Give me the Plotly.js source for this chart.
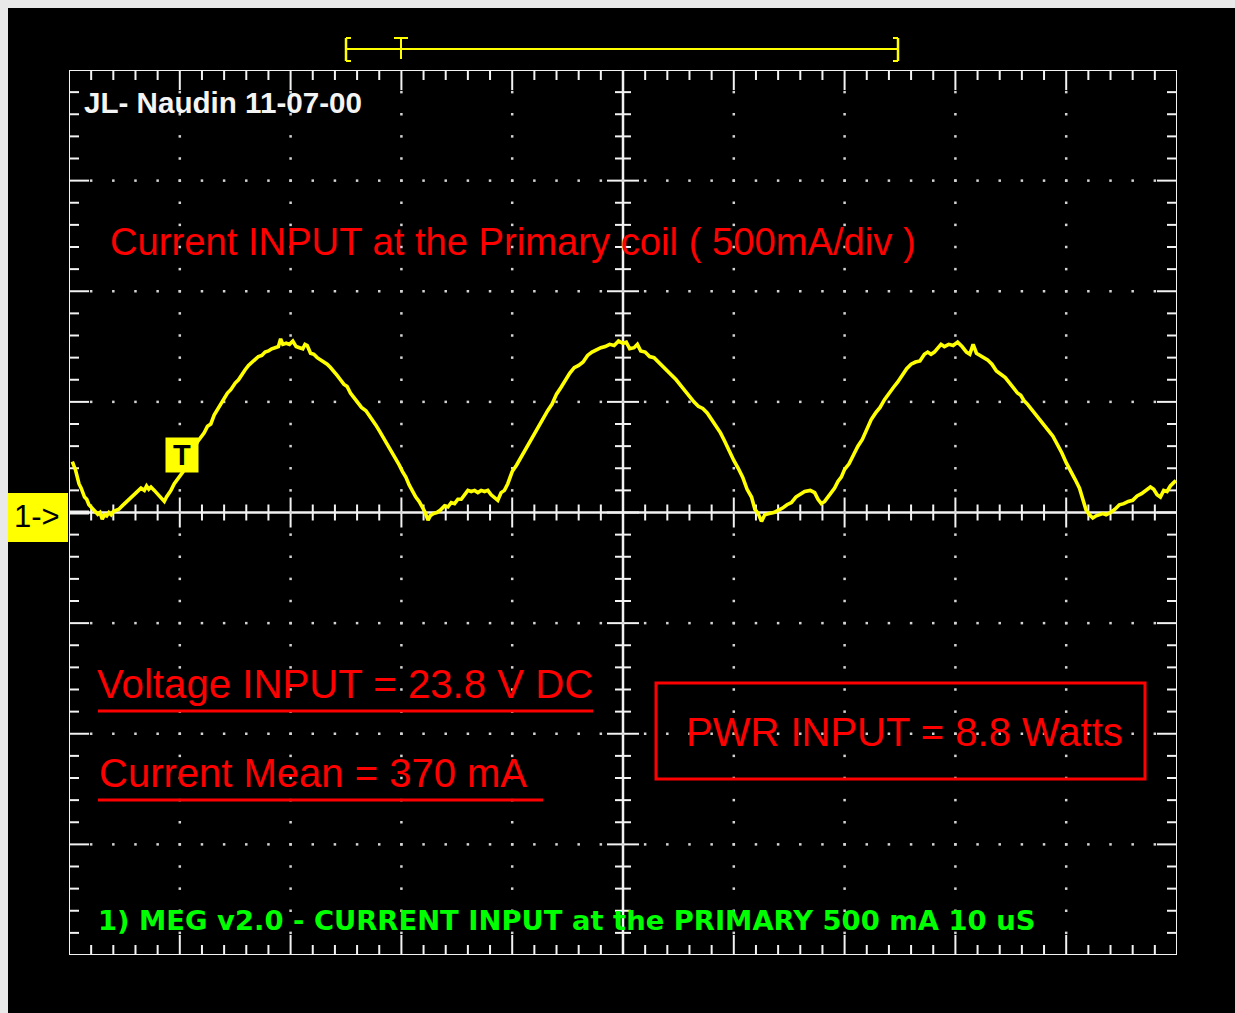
<!DOCTYPE html>
<html><head><meta charset="utf-8">
<script src="https://cdn.plot.ly/plotly-3.0.1.min.js"></script>
<style>
html,body{margin:0;padding:0;background:#e9e9e9;width:1235px;height:1013px;overflow:hidden;}
#chart{position:absolute;left:8px;top:8px;width:1227px;height:1005px;}
</style></head><body><div id="chart"></div>
<script>
// ---- data: current through the primary coil (time in µs, current in mA) ----
const timeUs = [0.3,0.6,0.9,1.1,1.4,1.6,1.8,2.0,2.3,2.6,2.8,3.0,3.2,3.4,3.6,3.8,4.0,4.3,4.5,4.8,5.0,5.3,5.6,5.9,6.2,6.5,6.8,7.0,7.2,7.4,7.7,7.9,8.0,8.3,8.6,8.8,9.0,9.2,9.5,9.8,10.0,10.3,10.7,11.0,11.3,11.6,11.9,12.2,12.5,12.8,13.1,13.4,13.7,14.0,14.3,14.6,15.0,15.3,15.6,15.9,16.2,16.5,16.8,17.1,17.4,17.7,18.0,18.3,18.6,18.9,19.1,19.3,19.6,19.9,20.2,20.5,20.8,21.1,21.3,21.5,21.8,22.1,22.4,22.7,23.0,23.3,23.6,23.9,24.2,24.5,24.8,25.1,25.4,25.7,26.0,26.4,26.8,27.1,27.4,27.7,28.0,28.3,28.6,28.9,29.2,29.5,29.8,30.1,30.4,30.7,31.0,31.3,31.6,31.9,32.1,32.4,32.6,32.9,33.2,33.5,33.9,34.2,34.5,34.8,35.1,35.4,35.7,36.0,36.3,36.6,36.9,37.2,37.5,37.8,38.1,38.4,38.7,39.0,39.3,39.6,40.0,40.4,40.8,41.2,41.6,42.0,42.4,42.8,43.2,43.6,44.0,44.4,44.8,45.2,45.6,46.0,46.4,46.8,47.2,47.6,48.0,48.4,48.8,49.2,49.6,50.0,50.3,50.6,51.0,51.3,51.6,52.0,52.4,52.8,53.2,53.6,54.0,54.4,54.8,55.2,55.6,56.0,56.4,56.8,57.2,57.6,58.0,58.4,58.8,59.2,59.6,60.0,60.4,60.8,61.2,61.6,61.9,62.2,62.5,62.8,63.2,63.6,64.0,64.4,64.8,65.2,65.6,66.0,66.4,66.9,67.3,67.6,67.9,68.2,68.5,68.8,69.1,69.4,69.7,70.0,70.4,70.8,71.2,71.6,72.0,72.4,72.8,73.2,73.6,74.0,74.4,74.8,75.2,75.6,76.0,76.4,76.8,77.2,77.5,77.8,78.1,78.4,78.7,79.0,79.4,79.8,80.2,80.6,81.0,81.3,81.6,81.9,82.2,82.5,82.9,83.3,83.7,84.1,84.5,84.9,85.3,85.6,85.9,86.2,86.5,86.8,87.2,87.6,88.0,88.4,88.8,89.2,89.6,90.0,90.4,90.8,91.2,91.5,91.8,92.1,92.4,92.7,93.0,93.3,93.6,94.0,94.4,94.8,95.2,95.6,96.0,96.4,96.8,97.2,97.6,97.9,98.2,98.5,98.8,99.1,99.4,99.7,99.9];
const currentMa = [230,190,130,110,70,60,35,25,5,-8,0,-30,-10,-15,0,-10,5,10,15,30,40,55,70,85,95,110,100,120,105,115,100,90,80,65,50,70,85,100,130,150,165,185,205,250,290,320,340,360,390,400,440,465,485,510,540,555,585,600,625,645,665,680,690,705,710,725,730,740,745,750,785,760,765,760,775,750,745,740,760,755,720,715,700,690,680,670,655,640,620,600,580,570,540,520,500,475,460,440,420,395,370,345,315,290,265,245,215,185,160,125,95,70,50,20,5,-35,-15,-5,0,10,30,25,45,40,60,60,80,100,95,100,90,100,95,100,80,65,55,90,100,130,185,215,250,285,320,360,395,430,460,490,535,565,600,630,655,665,680,710,725,735,745,750,760,755,775,765,770,740,745,760,730,725,705,700,680,660,640,625,600,575,550,520,500,480,470,450,420,390,360,320,275,235,200,160,105,70,15,-5,-40,-10,-5,0,10,20,35,45,70,85,95,100,90,60,40,50,70,85,110,140,160,195,220,260,300,330,375,420,450,475,510,540,565,590,620,650,670,680,685,715,725,715,725,745,760,750,760,755,770,750,725,715,760,720,710,700,690,670,640,625,610,585,560,540,530,505,490,470,445,420,395,370,345,310,270,225,190,150,110,60,10,-10,-25,-15,-10,-5,-10,0,15,35,40,50,55,75,85,100,115,105,80,70,100,95,120,135,145];

// ---- scope settings ----
const timePerDiv = 10;        // µs / div
const currentPerDiv = 500;    // mA / div
const xDivs = 10, yDivs = 8, subDivs = 5;
const triggerMarker = [10.24, 258];   // trigger "T" flag on the trace (µs, mA)
const channelLabel = "1->";
const headerText = "JL- Naudin 11-07-00";
const titleText = "Current INPUT at the Primary coil ( 500mA/div )";
const voltageText = "Voltage INPUT = 23.8 V DC";
const meanText = "Current Mean = 370 mA";
const powerText = "PWR INPUT = 8.8 Watts";
const footerText = "1) MEG v2.0 - CURRENT INPUT at the PRIMARY 500 mA 10 uS";

// ---- geometry helpers (page pixels -> paper) ----
const PL = 69, PT = 70, PW = 1108, PH = 885;
const xp = px => (px - PL) / PW;
const yp = py => 1 - (py - PT) / PH;
const xMax = xDivs * timePerDiv, yHalf = yDivs / 2 * currentPerDiv;
const ux = xMax / PW, uy = 2 * yHalf / PH;   // data units per pixel

const WHITE = '#f2f2f2', RED = '#ff0000', YEL = '#ffff00', GRN = '#00ff00';
const shapes = [];
const seg = (x0, y0, x1, y1, color, w, layer, ref) => shapes.push({
  type: 'line', xref: ref ? 'paper' : 'x', yref: ref ? 'paper' : 'y',
  x0, y0, x1, y1, layer: layer || 'below', line: {color, width: w}});

// frame
shapes.push({type:'rect', xref:'x', yref:'y', x0:0, x1:xMax, y0:-yHalf, y1:yHalf,
  layer:'below', line:{color:WHITE, width:2}});
// center axes
seg(xMax/2, -yHalf, xMax/2, yHalf, WHITE, 2.5);
seg(0, 0, xMax, 0, WHITE, 2.5);
// ticks along x
const xStep = timePerDiv / subDivs;
for (let k = 1; k < xDivs * subDivs; k++) {
  const x = k * xStep, major = k % subDivs === 0;
  const L = (major ? 20 : 10) * uy;
  seg(x, yHalf, x, yHalf - L, WHITE, 2);
  seg(x, -yHalf, x, -yHalf + L, WHITE, 2);
  const h = (major ? 15 : 8) * uy;
  seg(x, -h, x, h, WHITE, 2);
}
// ticks along y
const yStep = currentPerDiv / subDivs;
for (let j = 1; j < yDivs * subDivs; j++) {
  const y = -yHalf + j * yStep, major = j % subDivs === 0;
  const L = (major ? 20 : 10) * ux;
  seg(0, y, L, y, WHITE, 2);
  seg(xMax, y, xMax - L, y, WHITE, 2);
  const h = (major ? 16 : 8) * ux;
  seg(xMax/2 - h, y, xMax/2 + h, y, WHITE, 2);
}
// ground marker stub
seg(0, 0, 20 * ux, 0, WHITE, 4);

// dotted graticule
const dotX = [], dotY = [];
for (let d = 1; d < xDivs; d++) {
  if (d === xDivs / 2) continue;
  for (let j = 1; j < yDivs * subDivs; j++) { dotX.push(d * timePerDiv); dotY.push(-yHalf + j * yStep); }
}
for (let d = 1; d < yDivs; d++) {
  if (d === yDivs / 2) continue;
  for (let k = 1; k < xDivs * subDivs; k++) { dotX.push(k * xStep); dotY.push(-yHalf + d * currentPerDiv); }
}

// underlines and power box
shapes.push({type:'line', xref:'paper', yref:'paper', x0:xp(98), x1:xp(593), y0:yp(711), y1:yp(711), layer:'above', line:{color:RED, width:3}});
shapes.push({type:'line', xref:'paper', yref:'paper', x0:xp(98), x1:xp(543), y0:yp(800), y1:yp(800), layer:'above', line:{color:RED, width:3}});
shapes.push({type:'rect', xref:'paper', yref:'paper', x0:xp(656), x1:xp(1145), y0:yp(683), y1:yp(779), layer:'above', line:{color:RED, width:3}});
// channel marker box
shapes.push({type:'rect', xref:'paper', yref:'paper', x0:xp(8), x1:xp(68), y0:yp(493), y1:yp(542), layer:'above', fillcolor:YEL, line:{width:0}});
// memory window bar on top
const topY = yp(49), topA = yp(38), topB = yp(61);
seg(xp(346), topY, xp(898), topY, YEL, 2, 'above', true);
seg(xp(346), topA, xp(346), topB, YEL, 2.5, 'above', true);
seg(xp(346), topA, xp(351), topA, YEL, 2, 'above', true);
seg(xp(346), topB, xp(351), topB, YEL, 2, 'above', true);
seg(xp(898), topA, xp(898), topB, YEL, 2.5, 'above', true);
seg(xp(893), topA, xp(898), topA, YEL, 2, 'above', true);
seg(xp(893), topB, xp(898), topB, YEL, 2, 'above', true);
seg(xp(401), topA, xp(401), yp(59), YEL, 2, 'above', true);
seg(xp(394), topA, xp(408), topA, YEL, 2, 'above', true);

const ann = (text, px, py, family, size, color, weight) => ({
  text, xref:'paper', yref:'paper', x:xp(px), y:yp(py), xanchor:'left', yanchor:'middle',
  showarrow:false, font:{family, size, color, weight: weight || 'normal'}});

const annotations = [
  ann(headerText, 82, 102, 'Liberation Sans', 29.6, '#f4f4f4', 'bold'),
  ann(titleText, 108, 241, 'Liberation Sans', 38.2, RED),
  ann(voltageText, 95, 684, 'Liberation Sans', 40.2, RED),
  ann(meanText, 97, 773, 'Liberation Sans', 40, RED),
  ann(powerText, 684, 732, 'Liberation Sans', 40, RED),
  ann(footerText, 96, 920, 'DejaVu Sans', 27.4, GRN, 'bold'),
  {text: channelLabel, xref:'paper', yref:'paper', x:xp(37), y:yp(516), xanchor:'center', yanchor:'middle',
   showarrow:false, font:{family:'Liberation Sans', size:31, color:'#000000'}},
  {text:'T', xref:'x', yref:'y', x:triggerMarker[0], y:triggerMarker[1], xanchor:'center', yanchor:'middle',
   showarrow:false, bgcolor:YEL, width:32, height:34, borderpad:0,
   font:{family:'Liberation Sans', size:29, color:'#000000', weight:'bold'}}
];

const traces = [
  {x: dotX, y: dotY, type:'scatter', mode:'markers', hoverinfo:'skip',
   marker:{symbol:'square', size:2.5, color:'#d4d4d4', line:{width:0}}},
  {x: timeUs, y: currentMa, type:'scatter', mode:'lines', hoverinfo:'skip',
   line:{color:YEL, width:3.6}}
];

const layout = {
  width:1227, height:1005,
  margin:{l:61, r:58, t:62, b:58, pad:0},
  paper_bgcolor:'#000000', plot_bgcolor:'#000000',
  showlegend:false,
  xaxis:{range:[0, xMax], visible:false, fixedrange:true},
  yaxis:{range:[-yHalf, yHalf], visible:false, fixedrange:true},
  shapes, annotations
};
Plotly.newPlot('chart', traces, layout, {staticPlot:true, displayModeBar:false});
</script></body></html>
